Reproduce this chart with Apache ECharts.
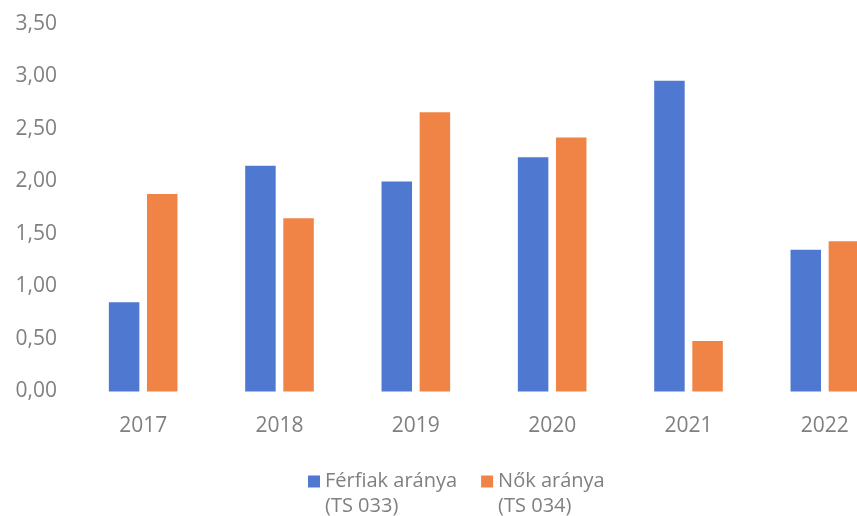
<!DOCTYPE html>
<html>
<head>
<meta charset="utf-8">
<script src="https://cdn.jsdelivr.net/npm/echarts@6/dist/echarts.min.js"></script>
<style>
  html, body { margin: 0; padding: 0; background: #fff; }
  #chart { width: 857px; height: 516px; }
</style>
</head>
<body>
<div id="chart"></div>
<script>
const years = ['2017', '2018', '2019', '2020', '2021', '2022']
const ferfiak = [0.85, 2.15, 2.00, 2.23, 2.96, 1.35]
const nok = [1.88, 1.65, 2.66, 2.42, 0.48, 1.43]
const seriesNames = ['Férfiak aránya\n(TS 033)', 'Nők aránya\n(TS 034)']

const font = '"Open Sans", sans-serif'
const grey = '#808080'

const chart = echarts.init(document.getElementById('chart'))
chart.setOption({
  animation: false,
  color: ['#4F79D0', '#F08446'],
  // the picture is cropped on the right, so the grid runs past the canvas
  grid: { left: 75, right: -36, top: 24, bottom: 124.5, outerBoundsMode: 'none' },
  xAxis: {
    type: 'category',
    data: years,
    axisLine: { show: false },
    axisTick: { show: false },
    axisLabel: { color: grey, fontFamily: font, fontSize: 21, margin: 24 }
  },
  yAxis: {
    type: 'value',
    min: 0,
    max: 3.5,
    interval: 0.5,
    splitLine: { show: false },
    axisLabel: {
      color: grey, fontFamily: font, fontSize: 21, margin: 18,
      formatter: v => v.toFixed(2).replace('.', ',')
    }
  },
  legend: {
    left: 303,
    top: 439,
    itemWidth: 12,
    itemHeight: 12,
    itemGap: 24,
    icon: 'rect',
    // blank first line keeps the marker level with the first line of the name
    formatter: name => ' \n' + name,
    textStyle: { color: grey, fontFamily: font, fontSize: 20, lineHeight: 25 }
  },
  series: [
    { name: seriesNames[0], type: 'bar', data: ferfiak, barWidth: 30.5, barGap: '25%' },
    { name: seriesNames[1], type: 'bar', data: nok, barWidth: 30.5, barGap: '25%' }
  ]
})
</script>
</body>
</html>
